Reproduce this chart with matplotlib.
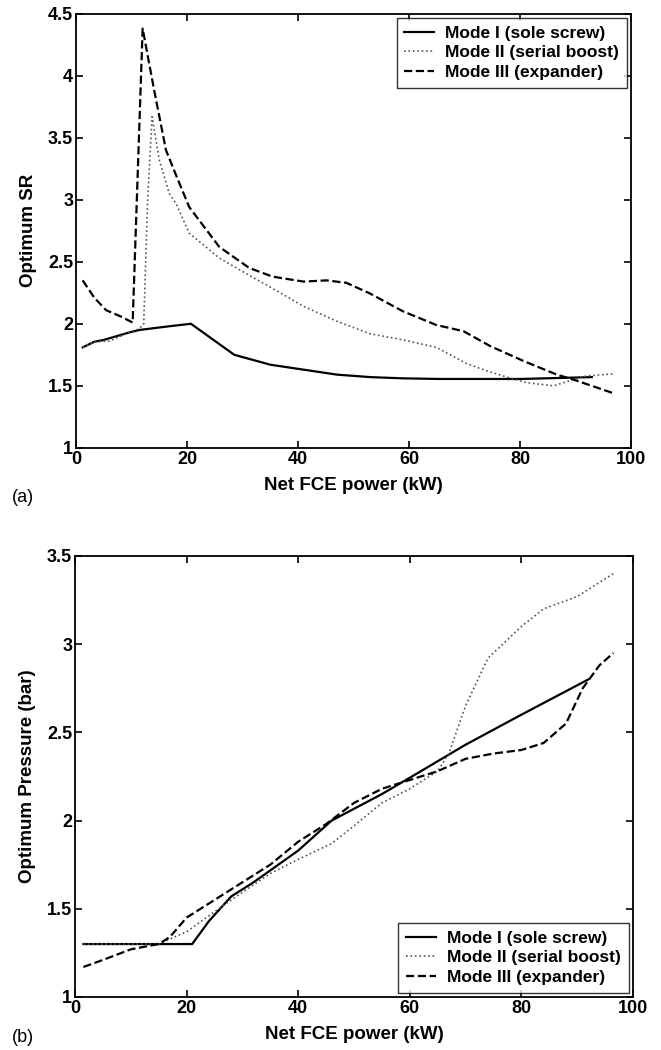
import matplotlib
matplotlib.use('Agg')
import matplotlib.pyplot as plt

plt.rcParams['font.family'] = ['Liberation Sans', 'DejaVu Sans']
plt.rcParams['font.weight'] = 'bold'

labels = ['Mode I (sole screw)', 'Mode II (serial boost)', 'Mode III (expander)']

# (a) optimum SR
sr1_x = [1.2, 3.3, 5, 9.6, 11.4, 16.8, 20.7, 28.5, 35, 41, 47, 53, 59, 65.6, 80, 92.9]
sr1_y = [1.81, 1.855, 1.87, 1.93, 1.95, 1.98, 2.0, 1.75, 1.67, 1.63, 1.59, 1.57, 1.56, 1.555, 1.555, 1.57]
sr2_x = [1.2, 3.3, 6, 9.6, 11.4, 12.2, 12.9, 13.7, 15, 16.8, 18, 20.4, 25.8, 31.2, 36, 41, 47, 52.9, 58.9, 64.9, 70.3, 74, 77.6, 81.2, 86, 89.6, 92, 96.6]
sr2_y = [1.81, 1.855, 1.86, 1.93, 1.96, 2.0, 3.0, 3.67, 3.32, 3.05, 2.97, 2.73, 2.53, 2.39, 2.27, 2.14, 2.02, 1.92, 1.87, 1.81, 1.68, 1.62, 1.57, 1.525, 1.50, 1.55, 1.58, 1.595]
sr3_x = [1.2, 3.3, 5.4, 8, 10.2, 12.0, 14, 16.2, 18, 20.4, 25.8, 31.2, 35.4, 41, 45.1, 48.7, 52.9, 58.9, 64.9, 69.8, 74.6, 80.6, 86.6, 89.6, 96.8]
sr3_y = [2.35, 2.21, 2.11, 2.06, 2.01, 4.38, 3.9, 3.40, 3.2, 2.94, 2.62, 2.45, 2.38, 2.34, 2.35, 2.33, 2.245, 2.10, 1.99, 1.94, 1.82, 1.70, 1.59, 1.55, 1.44]

# (b) optimum pressure
p1_x = [1.5, 21, 24, 28, 32, 40, 46, 55, 62, 70, 80, 92]
p1_y = [1.3, 1.3, 1.43, 1.57, 1.65, 1.83, 2.0, 2.15, 2.28, 2.43, 2.6, 2.8]
p2_x = [1.5, 15, 20, 28, 35, 40, 46, 50, 55, 60, 65, 67, 70, 74, 80, 84, 90, 93, 96.5]
p2_y = [1.3, 1.3, 1.37, 1.55, 1.7, 1.78, 1.87, 1.97, 2.1, 2.18, 2.28, 2.38, 2.65, 2.92, 3.1, 3.2, 3.27, 3.33, 3.4]
p3_x = [1.5, 5, 10, 15, 17, 20, 25, 30, 35, 40, 45, 50, 55, 60, 65, 70, 75, 80, 84, 88, 91, 94, 96.5]
p3_y = [1.17, 1.21, 1.27, 1.3, 1.34, 1.45, 1.55, 1.65, 1.75, 1.88, 1.98, 2.1, 2.18, 2.23, 2.28, 2.35, 2.38, 2.4, 2.44, 2.55, 2.75, 2.88, 2.95]

fig = plt.figure(figsize=(6.61, 10.5), dpi=100)
ax1 = fig.add_axes([0.115, 0.5735, 0.840, 0.4135])
ax2 = fig.add_axes([0.1135, 0.0505, 0.844, 0.420])

leg_kw = dict(fontsize=12.5, frameon=True, fancybox=False, edgecolor='black',
              handlelength=1.7, handletextpad=0.65, borderpad=0.45,
              labelspacing=0.25, borderaxespad=0.25)

ax1.plot(sr1_x, sr1_y, 'k-', lw=1.6, label=labels[0])
ax1.plot(sr2_x, sr2_y, ':', color='#555555', lw=1.2, label=labels[1])
ax1.plot(sr3_x, sr3_y, 'k--', lw=1.6, label=labels[2])
ax1.set_ylim(1, 4.5)
ax1.set_yticks([1, 1.5, 2, 2.5, 3, 3.5, 4, 4.5])
ax1.set_yticklabels(['1', '1.5', '2', '2.5', '3', '3.5', '4', '4.5'])
ax1.set_ylabel('Optimum SR', fontsize=13.5, fontweight='bold', labelpad=8)
ax1.legend(loc='upper right', **leg_kw)

ax2.plot(p1_x, p1_y, 'k-', lw=1.6, label=labels[0])
ax2.plot(p2_x, p2_y, ':', color='#555555', lw=1.2, label=labels[1])
ax2.plot(p3_x, p3_y, 'k--', lw=1.6, label=labels[2])
ax2.set_ylim(1, 3.5)
ax2.set_yticks([1, 1.5, 2, 2.5, 3, 3.5])
ax2.set_yticklabels(['1', '1.5', '2', '2.5', '3', '3.5'])
ax2.set_ylabel('Optimum Pressure (bar)', fontsize=13.5, fontweight='bold', labelpad=8)
ax2.legend(loc='lower right', **leg_kw)

for ax in (ax1, ax2):
    ax.set_xlim(0, 100)
    ax.set_xticks([0, 20, 40, 60, 80, 100])
    ax.set_xlabel('Net FCE power (kW)', fontsize=13.5, fontweight='bold', labelpad=7)
    ax.tick_params(direction='in', top=True, right=True, labelsize=13, length=5, width=1.2, pad=2)
    for s in ax.spines.values():
        s.set_linewidth(1.3)

fig.text(0.018, 1 - 497 / 1050, '(a)', fontsize=13, fontweight='normal', va='center')
fig.text(0.018, 1 - 1037 / 1050, '(b)', fontsize=13, fontweight='normal', va='center')

fig.savefig('out.png', dpi=100)
